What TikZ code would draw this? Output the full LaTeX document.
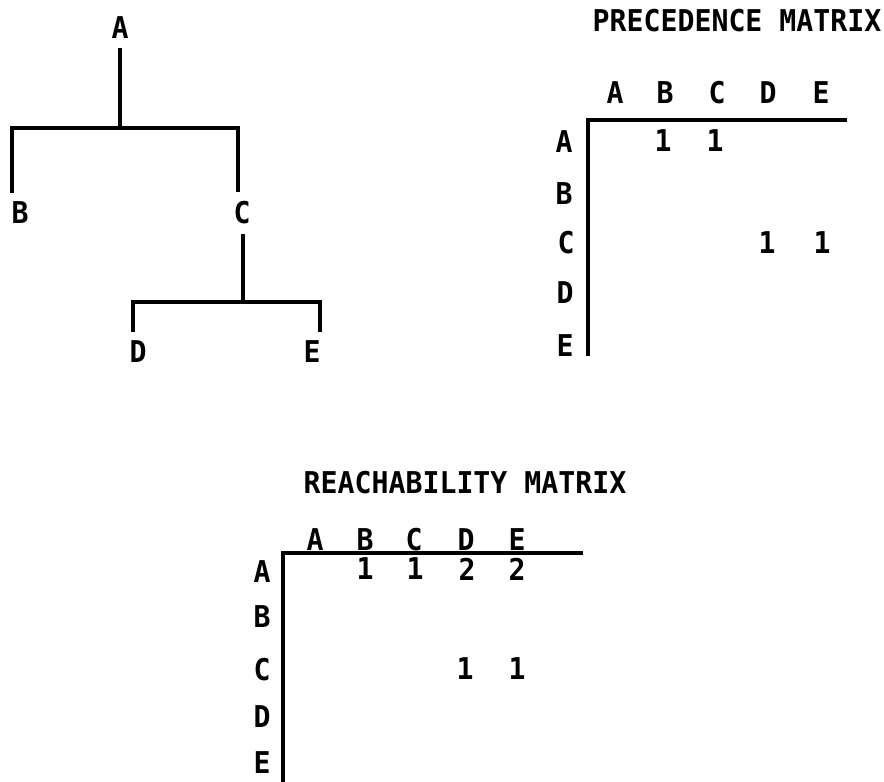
\documentclass[tikz,border=0pt]{standalone}
\usepackage{fontspec}
\newfontfamily\typew[FakeStretch=0.94]{DejaVu Sans Mono}
\begin{document}
\begin{tikzpicture}[x=1pt,y=-1pt,
  lbl/.style={font=\typew\bfseries\fontsize{30}{32}\selectfont, inner sep=9pt},
  ln/.style={line width=3.5pt}]
\useasboundingbox (0,0) rectangle (884,782);

% ---------------- tree ----------------
\node[lbl] (tA) at (120,28) {A};
\node[lbl] (tB) at (20,213) {B};
\node[lbl] (tC) at (242,213) {C};
\node[lbl] (tD) at (138,352) {D};
\node[lbl] (tE) at (312,352) {E};
\coordinate (jA) at (120,128);
\coordinate (t1) at (12,128);
\coordinate (t2) at (238,128);
\coordinate (jC) at (243,302);
\coordinate (t3) at (133,302);
\coordinate (t4) at (320,302);
\draw[ln] (tA.south) -- (jA);
\draw[ln] (t1 |- tB.north) -- (t1) -- (t2) -- (t2 |- tC.north);
\draw[ln] (jC |- tC.south) -- (jC);
\draw[ln] (t3 |- tD.north) -- (t3) -- (t4) -- (t4 |- tE.north);

% ---------------- precedence matrix ----------------
\node[lbl] (pT) at (737,21) {PRECEDENCE MATRIX};
\node[lbl] (pcA) at (615,93) {A};
\node[lbl] (pcB) at (665,93) {B};
\node[lbl] (pcC) at (717,93) {C};
\node[lbl] (pcD) at (768,93) {D};
\node[lbl] (pcE) at (821,93) {E};
\node[lbl] (prA) at (564,142) {A};
\node[lbl] (prB) at (564,194) {B};
\node[lbl] (prC) at (566,243) {C};
\node[lbl] (prD) at (565,293) {D};
\node[lbl] (prE) at (565,346) {E};
\node[lbl] (pAB) at (663,141) {1};
\node[lbl] (pAC) at (715,141) {1};
\node[lbl] (pCD) at (767,243) {1};
\node[lbl] (pCE) at (822,243) {1};
\coordinate (pO) at (588,120);
\coordinate (pH) at (847,120);
\coordinate (pV) at (588,356);
\draw[ln] (pH) -- (pO) -- (pV);

% ---------------- reachability matrix ----------------
\node[lbl] (rT) at (465,483) {REACHABILITY MATRIX};
\node[lbl] (rcA) at (315,540) {A};
\node[lbl] (rcB) at (365,540) {B};
\node[lbl] (rcC) at (414,540) {C};
\node[lbl] (rcD) at (466,540) {D};
\node[lbl] (rcE) at (517,540) {E};
\node[lbl] (rrA) at (262,572) {A};
\node[lbl] (rrB) at (262,617) {B};
\node[lbl] (rrC) at (262,670) {C};
\node[lbl] (rrD) at (262,717) {D};
\node[lbl] (rrE) at (262,763) {E};
\node[lbl] (rAB) at (365,569) {1};
\node[lbl] (rAC) at (415,569) {1};
\node[lbl] (rAD) at (467,569) {2};
\node[lbl] (rAE) at (517,569) {2};
\node[lbl] (rCD) at (465,669) {1};
\node[lbl] (rCE) at (517,669) {1};
\coordinate (rO) at (283,553);
\coordinate (rH) at (583,553);
\coordinate (rV) at (283,782);
\draw[ln] (rH) -- (rO) -- (rV);
\end{tikzpicture}
\end{document}
